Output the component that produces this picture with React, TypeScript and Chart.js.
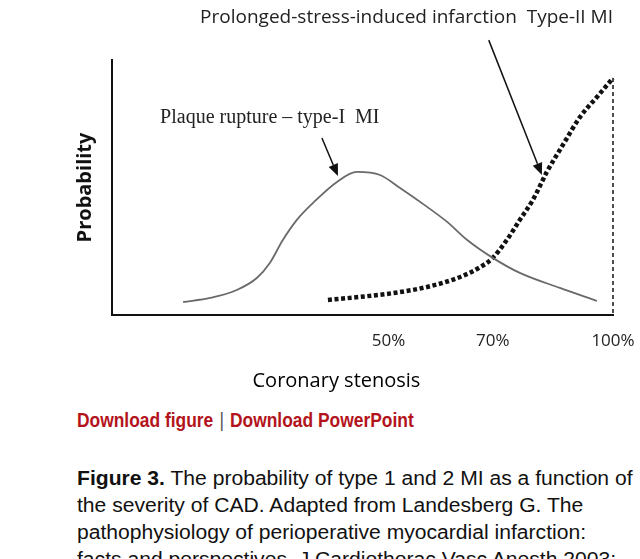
import React, { useEffect, useRef } from "react";
import { Chart, registerables } from "chart.js";

Chart.register(...registerables);

// Schematic x position (0..100 along the stenosis axis) and probability (0..1)
const typeIPos = [14.2, 19.6, 24.9, 28.9, 31.5, 34.1, 36.9, 40.1, 44.9, 48.9, 53.5, 57.5, 62.9, 66.9, 70.9, 76.0, 81.4, 89.4, 96.8];
const typeIProb = [0.051, 0.067, 0.098, 0.145, 0.204, 0.294, 0.373, 0.439, 0.522, 0.561, 0.549, 0.498, 0.424, 0.365, 0.294, 0.224, 0.165, 0.106, 0.055];

const typeIIPos = [43.1, 49.5, 56.1, 62.9, 69.5, 73.5, 76.0, 78.8, 81.4, 84.0, 86.8, 90.0, 93.4, 96.8, 100];
const typeIIProb = [0.059, 0.071, 0.086, 0.110, 0.149, 0.188, 0.224, 0.294, 0.373, 0.451, 0.561, 0.667, 0.776, 0.855, 0.929];

const dropPos = [100, 100];
const dropProb = [0.929, 0];

const tickPositions = [55.2, 76, 100];
const tickLabels = ["50%", "70%", "100%"];

const chartTitle = "Prolonged-stress-induced infarction  Type-II MI";
const xTitle = "Coronary stenosis";
const yTitle = "Probability";
const typeILabel = "Plaque rupture \u2013 type-I  MI";

// annotation arrows and labels (in data units)
const arrowFromPos = [41.9, 75.2];
const arrowFromProb = [0.694, 1.078];
const arrowToPos = [45.1, 85.8];
const arrowToProb = [0.545, 0.549];
const labelPos = 9.6;
const labelProb = 0.773;
const xTitlePos = 44.8;

const captionLines = [
  "The probability of type 1 and 2 MI as a function of",
  "the severity of CAD. Adapted from Landesberg G. The",
  "pathophysiology of perioperative myocardial infarction:",
  "facts and perspectives. J Cardiothorac Vasc Anesth 2003;",
];

const zip = (xs: number[], ys: number[]) => xs.map((x, i) => ({ x, y: ys[i] }));

const annotationPlugin = {
  id: "annot",
  afterDraw(chart: any) {
    const { ctx, scales } = chart;
    const xs = scales.x;
    const ys = scales.y;
    ctx.save();
    ctx.strokeStyle = "#111";
    ctx.fillStyle = "#111";
    ctx.lineWidth = 1.5;
    for (let i = 0; i < arrowFromPos.length; i++) {
      const x1 = xs.getPixelForValue(arrowFromPos[i]);
      const y1 = ys.getPixelForValue(arrowFromProb[i]);
      const x2 = xs.getPixelForValue(arrowToPos[i]);
      const y2 = ys.getPixelForValue(arrowToProb[i]);
      const ang = Math.atan2(y2 - y1, x2 - x1);
      const hl = 12;
      const hw = 5;
      const bx = x2 - hl * Math.cos(ang);
      const by = y2 - hl * Math.sin(ang);
      ctx.beginPath();
      ctx.moveTo(x1, y1);
      ctx.lineTo(bx, by);
      ctx.stroke();
      ctx.beginPath();
      ctx.moveTo(x2, y2);
      ctx.lineTo(bx + hw * Math.sin(ang), by - hw * Math.cos(ang));
      ctx.lineTo(bx - hw * Math.sin(ang), by + hw * Math.cos(ang));
      ctx.closePath();
      ctx.fill();
    }
    ctx.font = "20px 'Liberation Serif', 'Times New Roman', serif";
    ctx.textAlign = "left";
    ctx.textBaseline = "middle";
    ctx.fillStyle = "#222";
    ctx.fillText(typeILabel, xs.getPixelForValue(labelPos), ys.getPixelForValue(labelProb));

    // x-axis title, placed below the tick labels
    ctx.font = "20px 'Open Sans', sans-serif";
    ctx.textAlign = "center";
    ctx.fillStyle = "#000";
    ctx.fillText(xTitle, xs.getPixelForValue(xTitlePos), xs.bottom + 14);
    ctx.restore();
  },
};

export default function App() {
  const ref = useRef<HTMLCanvasElement | null>(null);

  useEffect(() => {
    if (!ref.current) return;
    const chart = new Chart(ref.current, {
      type: "line",
      data: {
        datasets: [
          {
            label: "Type I",
            data: zip(typeIPos, typeIProb),
            borderColor: "#6a6a6a",
            borderWidth: 1.8,
            pointRadius: 0,
            cubicInterpolationMode: "monotone",
            fill: false,
          },
          {
            label: "Type II",
            data: zip(typeIIPos, typeIIProb),
            borderColor: "#111",
            borderWidth: 4.5,
            borderDash: [4, 2.6],
            borderCapStyle: "butt",
            pointRadius: 0,
            cubicInterpolationMode: "monotone",
            fill: false,
            clip: false,
          },
          {
            label: "Drop",
            data: zip(dropPos, dropProb),
            borderColor: "#222",
            borderWidth: 1.6,
            borderDash: [4, 3],
            pointRadius: 0,
            fill: false,
            clip: false,
          },
        ],
      },
      options: {
        animation: false,
        responsive: false,
        devicePixelRatio: 1,
        layout: { padding: { left: 50, right: 27, top: 0, bottom: 32.6 } },
        plugins: {
          legend: { display: false },
          tooltip: { enabled: false },
          title: {
            display: true,
            text: chartTitle,
            align: "end",
            fullSize: false,
            color: "#222",
            font: { family: "'Open Sans', sans-serif", size: 19, weight: "normal" },
            padding: { top: 6.6, bottom: 30.6 },
          },
        },
        scales: {
          x: {
            type: "linear",
            min: 0,
            max: 100,
            grid: { display: false, drawTicks: false },
            border: { display: true, color: "#111", width: 2 },
            afterBuildTicks: (scale: any) => {
              scale.ticks = tickPositions.map((v) => ({ value: v }));
            },
            afterFit: (scale: any) => {
              scale.paddingRight = 0;
              scale.paddingLeft = 0;
            },
            ticks: {
              padding: 16,
              color: "#222",
              font: { family: "'Open Sans', sans-serif", size: 17 },
              autoSkip: false,
              maxRotation: 0,
              callback: (v: any) => {
                const i = tickPositions.indexOf(Number(v));
                return i >= 0 ? tickLabels[i] : "";
              },
            },
            title: { display: false },
          },
          y: {
            type: "linear",
            min: 0,
            max: 1,
            grid: { display: false, drawTicks: false },
            border: { display: true, color: "#111", width: 2 },
            ticks: { display: false },
            title: {
              display: true,
              text: yTitle,
              color: "#111",
              font: { family: "'Open Sans', sans-serif", size: 20, weight: "bold" },
              padding: { top: 23, bottom: 15 },
            },
          },
        },
      },
      plugins: [annotationPlugin],
    } as any);
    return () => chart.destroy();
  }, []);

  return (
    <div
      style={{
        position: "absolute",
        left: 0,
        top: 0,
        width: 640,
        height: 559,
        overflow: "hidden",
        background: "#fff",
      }}
    >
      <canvas
        ref={ref}
        width={640}
        height={400}
        style={{ position: "absolute", left: 0, top: 0, width: 640, height: 400 }}
      />
      <div
        style={{
          position: "absolute",
          left: 77,
          top: 407,
          lineHeight: "26px",
          whiteSpace: "nowrap",
          fontFamily: "'Liberation Sans', Arial, sans-serif",
          fontWeight: 700,
          fontSize: 20,
          color: "#b3141c",
          transform: "scaleX(0.87)",
          transformOrigin: "left center",
        }}
      >
        <span>Download figure</span>
        <span style={{ color: "#555", fontWeight: 400, margin: "0 7px" }}>|</span>
        <span>Download PowerPoint</span>
      </div>
      <div
        style={{
          position: "absolute",
          left: 77,
          top: 465,
          lineHeight: "27px",
          whiteSpace: "nowrap",
          fontFamily: "'Liberation Sans', Arial, Helvetica, sans-serif",
          fontSize: 20,
          color: "#111",
          transform: "scaleX(1.055)",
          transformOrigin: "left top",
        }}
      >
        {captionLines.map((line, i) => (
          <div key={i}>
            {i === 0 ? (
              <>
                <b>Figure 3.</b> {line}
              </>
            ) : (
              line
            )}
          </div>
        ))}
      </div>
    </div>
  );
}
